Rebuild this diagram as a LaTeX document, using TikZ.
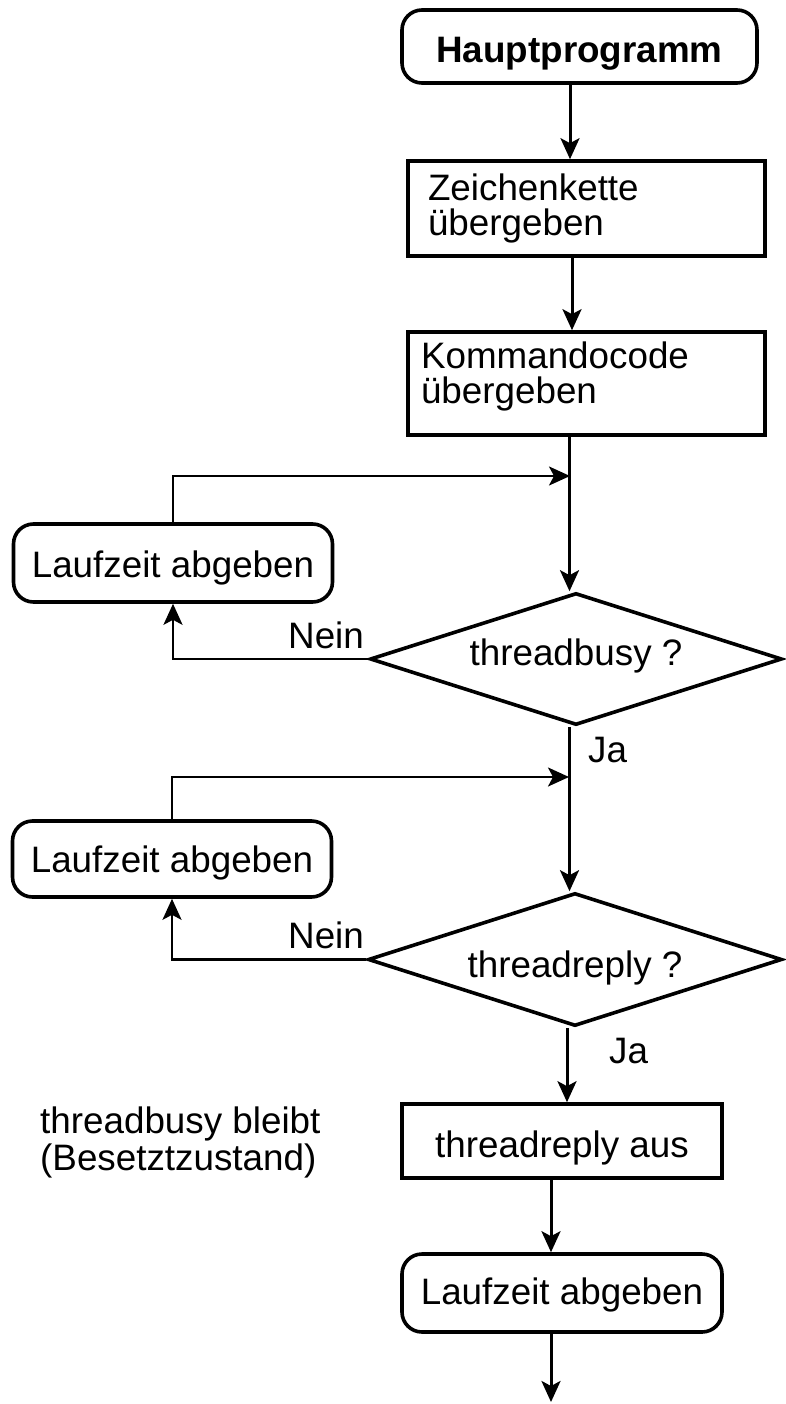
\documentclass[tikz,border=0pt]{standalone}
\usepackage{fontspec}
\setmainfont{Liberation Sans}
\usetikzlibrary{arrows.meta,shapes.geometric}
\begin{document}
\lineskiplimit=-50pt
\begin{tikzpicture}[x=1pt,y=-1pt,
  txt/.style={font=\fontsize{36.8pt}{35pt}\selectfont},
  box/.style={txt, draw, line width=3.6pt, inner sep=0pt},
  roundbox/.style={box, rounded corners=20pt},
  decision/.style={txt, draw, diamond, line width=3.6pt, inner sep=0pt, aspect=3.1, text depth=0pt},
  tag/.style={txt, inner sep=0pt, anchor=base west},
  flow/.style={line width=3pt, -{Stealth[length=21pt,width=19pt,inset=5pt]}},
  back/.style={line width=2.4pt, -{Stealth[length=21pt,width=19pt,inset=5pt]}}]
\useasboundingbox (0,0) rectangle (785,1404);

% main column
\node[roundbox, font=\fontsize{36.8pt}{35pt}\selectfont\bfseries,
      minimum width=355pt, minimum height=73pt, text height=33pt, text depth=0pt]
      (haupt) at (579.5,46.5) {Hauptprogramm};
\node[box, minimum width=357pt, minimum height=95pt, text width=317pt, align=left]
      (zeichen) at (586.5,208.5) {Zeichenkette\\übergeben\rule[-8.5pt]{0pt}{0pt}};
\node[box, minimum width=357pt, minimum height=103pt, text width=331pt, align=left]
      (kommando) at (586.5,383.5) {Kommandocode\\übergeben\rule[-22.5pt]{0pt}{0pt}};
\node[decision, minimum width=412pt, minimum height=132pt, text height=12pt]
      (d1) at (576,659) {threadbusy ?};
\node[decision, minimum width=414pt, minimum height=133pt, text height=36pt]
      (d2) at (575,959.5) {threadreply ?};
\node[box, minimum width=320pt, minimum height=74pt, text height=32pt, text depth=0pt]
      (aus) at (562,1141) {threadreply aus};
\node[roundbox, minimum width=320pt, minimum height=78pt, text height=22pt, text depth=0pt]
      (lz3) at (562,1293) {Laufzeit abgeben};

% waiting loops on the left
\node[roundbox, minimum width=319pt, minimum height=78pt, text height=28pt, text depth=0pt]
      (lz1) at (173,563) {Laufzeit abgeben};
\node[roundbox, minimum width=319pt, minimum height=76pt, text height=26pt, text depth=0pt]
      (lz2) at (172,859) {Laufzeit abgeben};

% free text and branch labels
\node[font=\fontsize{36.8pt}{37pt}\selectfont, inner sep=0pt, anchor=west, align=left]
      (note) at (40,1142) {threadbusy bleibt\\(Besetztzustand)};
\node[tag] (ja1) at (588,762) {Ja};
\node[tag] (ja2) at (609,1063) {Ja};
\node[tag] (nein1) at (288,648) {Nein};
\node[tag] (nein2) at (288,948) {Nein};

% connector guide coordinates
\coordinate (s1) at (570,0);
\coordinate (s2) at (572,0);
\coordinate (s3) at (569.5,0);
\coordinate (s4) at (567,0);
\coordinate (s5) at (551,0);
\coordinate (m1) at (570,476);
\coordinate (m2) at (569,777);
\coordinate (out) at (551,1402);

% connectors
\draw[flow] (haupt.south -| s1) -- (zeichen.north -| s1);
\draw[flow] (zeichen.south -| s2) -- (kommando.north -| s2);
\draw[flow] (kommando.south -| s3) -- (d1.north -| s3);
\draw[flow] (d1.south -| s3) -- (d2.north -| s3);
\draw[flow] (d2.south -| s4) -- (aus.north -| s4);
\draw[flow] (aus.south -| s5) -- (lz3.north -| s5);
\draw[flow] (lz3.south -| s5) -- (out);
\draw[back] (lz1.north) |- (m1);
\draw[back] (d1.west) -| (lz1.south);
\draw[back] (lz2.north) |- (m2);
\draw[back] (d2.west) -| (lz2.south);
\end{tikzpicture}
\end{document}
